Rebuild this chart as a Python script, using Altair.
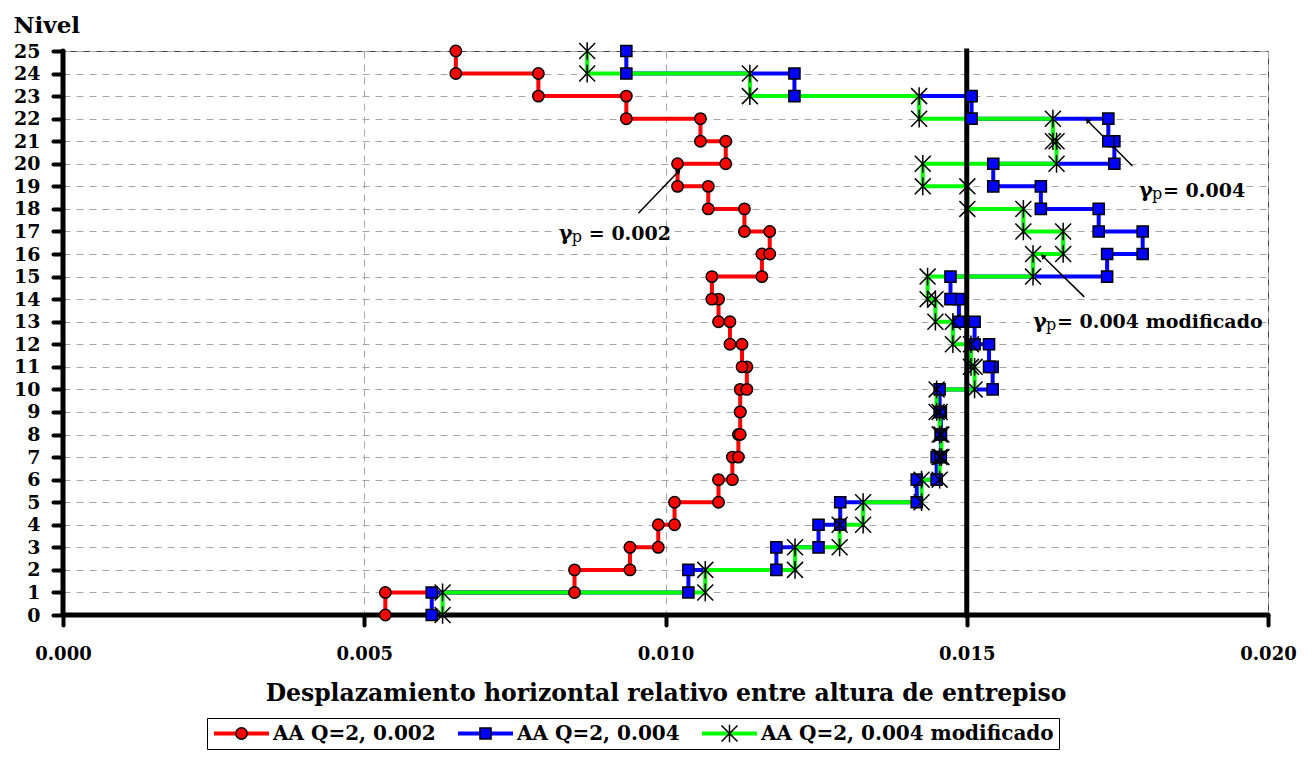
import altair as alt
import pandas as pd

F = "DejaVu Serif"

# ---- data ----
levels = list(range(26))
stories = list(range(1, 26))
series_names = ["AA Q=2, 0.002", "AA Q=2, 0.004", "AA Q=2, 0.004 modificado"]

drift_002 = [0.00535, 0.00849, 0.00941, 0.00988, 0.01015, 0.01088, 0.01111, 0.01121, 0.01124, 0.01124,
             0.01135, 0.01127, 0.01107, 0.01088, 0.01077, 0.01160, 0.01173, 0.01131, 0.01071, 0.01020,
             0.01100, 0.01058, 0.00935, 0.00789, 0.00652]
drift_004 = [0.00612, 0.01038, 0.01184, 0.01254, 0.01290, 0.01417, 0.01450, 0.01457, 0.01457, 0.01455,
             0.01543, 0.01537, 0.01513, 0.01487, 0.01473, 0.01733, 0.01792, 0.01719, 0.01623, 0.01544,
             0.01745, 0.01735, 0.01508, 0.01214, 0.00935]
drift_004m = [0.00630, 0.01066, 0.01215, 0.01289, 0.01328, 0.01425, 0.01455, 0.01458, 0.01455, 0.01450,
              0.01513, 0.01507, 0.01477, 0.01448, 0.01435, 0.01610, 0.01660, 0.01594, 0.01501, 0.01427,
              0.01649, 0.01643, 0.01421, 0.01140, 0.00870]

x_ticks = [0.000, 0.005, 0.010, 0.015, 0.020]
drift_limit = [0.015]

line_colors = ["#ff0000", "#0000ff", "#00ff00"]
marker_fills = ["#ff0000", "#0000ff", "#000000"]
marker_paths = [
    "M-0.2,0A0.2,0.2 0 1,0 0.2,0A0.2,0.2 0 1,0 -0.2,0Z",
    "M-0.195,-0.195L0.195,-0.195L0.195,0.195L-0.195,0.195Z",
    "M-0.28,-0.28L0.28,0.28M-0.28,0.28L0.28,-0.28M0,-0.31L0,0.31",
]

# annotations
ann_labels = ["= 0.002", "= 0.004", "= 0.004 modificado"]
ann_kind = ["spaced", "tight", "tight"]
ann_x = [0.00823, 0.01786, 0.01610]
ann_y = [16.62, 18.54, 12.72]
box_x = [0.00818, 0.01781, 0.01605]
box_x2 = [0.00999, 0.01963, 0.01990]
box_y = [16.45, 18.40, 12.55]
box_y2 = [17.45, 19.50, 13.60]
arr_x = [0.00955, 0.01775, 0.01695]
arr_y = [17.81, 19.90, 14.10]
arr_x2 = [0.01021, 0.01701, 0.01627]
arr_y2 = [19.65, 21.90, 15.88]
arr_angle = [44, 315, 315]

# ---- tables ----
rows = []
for name, arr in zip(series_names, [drift_002, drift_004, drift_004m]):
    for s, d in zip(stories, arr):
        rows.append({"serie": name, "x": d, "y": s - 1, "o": 2 * s})
        rows.append({"serie": name, "x": d, "y": s, "o": 2 * s + 1})
df = pd.DataFrame(rows)

ann = pd.DataFrame({"t": ann_labels, "k": ann_kind, "x": ann_x, "y": ann_y,
                    "x2": box_x2, "y2": box_y2, "bx": box_x, "by": box_y})
arrows = pd.DataFrame({"x": arr_x, "y": arr_y, "x2": arr_x2, "y2": arr_y2, "a": arr_angle})
limit_df = pd.DataFrame({"x": drift_limit, "y": [0], "y2": [25], "x0": [0.0], "x1": [0.02]})

xs = alt.Scale(domain=[0, 0.02], nice=False, zero=False)
ys = alt.Scale(domain=[0, 25], nice=False, zero=False)

XT = "Desplazamiento horizontal relativo entre altura de entrepiso"
xaxis = alt.Axis(values=x_ticks, format=".3f", labelFont=F, labelFontSize=18, labelFontWeight="bold",
                 labelColor="black", labelFlush=False, labelOverlap=False, labelPadding=20,
                 tickSize=10, tickWidth=4, tickColor="black", tickCap="round", domain=False,
                 grid=True, gridColor="#a6a6a6", gridDash=[7, 6], gridWidth=1,
                 title=XT, titleFont=F, titleFontSize=23.5, titleFontWeight="bold", titleColor="black",
                 titleY=85, titleBaseline="alphabetic")
yaxis = alt.Axis(values=levels, format="d", labelFont=F, labelFontSize=19, labelFontWeight="bold",
                 labelColor="black", labelOverlap=False, labelPadding=13,
                 tickSize=10, tickWidth=4, tickColor="black", tickCap="round", domain=False,
                 grid=True, gridColor="#a6a6a6", gridDash=[7, 6], gridWidth=1,
                 title="Nivel", titleAngle=0, titleAlign="left", titleBaseline="alphabetic",
                 titleX=-50, titleY=-19, titleFont=F, titleFontSize=23, titleFontWeight="bold",
                 titleColor="black")

leg_common = dict(orient="none", legendX=144, legendY=667, direction="horizontal", title=None,
                  labelFont=F, labelFontSize=20, labelFontWeight="bold", labelColor="black",
                  labelOffset=2, labelLimit=400, columnPadding=20, padding=5, clipHeight=21)
leg_lines = alt.Legend(symbolType="stroke", symbolSize=3025, symbolStrokeWidth=4,
                       strokeColor="black", fillColor="white", **leg_common)
leg_marks = alt.Legend(symbolSize=3249, symbolStrokeWidth=1.5, symbolStrokeColor="black",
                       symbolFillColor="white", labelOpacity=0, **leg_common)


def X(f="x"):
    return alt.X(f + ":Q", scale=xs, axis=xaxis, title=XT)


def Y(f="y"):
    return alt.Y(f + ":Q", scale=ys, axis=yaxis, title="Nivel")


boxes = alt.Chart(ann).mark_rect(color="white").encode(
    x=X("bx"), x2="x2:Q", y=Y("by"), y2="y2:Q")

yaxis_line = alt.Chart(limit_df).mark_rule(color="black", strokeWidth=5, strokeCap="round").encode(
    x=X("x0"), y=Y("y"), y2="y2:Q")
xaxis_line = alt.Chart(limit_df).mark_rule(color="black", strokeWidth=5, strokeCap="round").encode(
    x=X("x0"), x2="x1:Q", y=Y("y"))
limit_line = alt.Chart(limit_df).mark_rule(color="black", strokeWidth=5, strokeCap="square").encode(
    x=X("x"), y=Y("y"), y2="y2:Q")

lines = alt.Chart(df).mark_line(strokeWidth=4, interpolate="linear").encode(
    x=X("x"), y=Y("y"),
    color=alt.Color("serie:N", scale=alt.Scale(range=line_colors), legend=leg_lines),
    order="o:Q",
)

arrow_lines = alt.Chart(arrows).mark_rule(color="black", strokeWidth=1.5).encode(
    x=X("x"), y=Y("y"), x2="x2:Q", y2="y2:Q")
arrow_heads = alt.Chart(arrows).mark_point(shape="triangle", filled=True, color="black",
                                           size=35, opacity=1).encode(
    x=X("x2"), y=Y("y2"), angle=alt.Angle("a:Q", scale=None))

markers = alt.Chart(df).mark_point(filled=True, size=3249, stroke="black", strokeWidth=1.5,
                                   opacity=1).encode(
    x=X("x"), y=Y("y"),
    fill=alt.Fill("serie:N", scale=alt.Scale(domain=series_names, range=marker_fills), legend=leg_marks),
    shape=alt.Shape("serie:N", scale=alt.Scale(domain=series_names, range=marker_paths), legend=leg_marks),
)

gamma = alt.Chart(ann).mark_text(text="γ", font=F, fontSize=21, fontWeight="bold", color="black",
                                 align="left", baseline="alphabetic").encode(x=X("x"), y=Y("y"))
sub_p = alt.Chart(ann).mark_text(text="p", font=F, fontSize=16, color="black",
                                 align="left", baseline="alphabetic", dx=13, dy=2).encode(x=X("x"), y=Y("y"))
eq_spaced = alt.Chart(ann).transform_filter(alt.datum.k == "spaced").mark_text(
    font=F, fontSize=19, fontWeight="bold", color="black", align="left", baseline="alphabetic", dx=30
).encode(x=X("x"), y=Y("y"), text="t:N")
eq_tight = alt.Chart(ann).transform_filter(alt.datum.k == "tight").mark_text(
    font=F, fontSize=19, fontWeight="bold", color="black", align="left", baseline="alphabetic", dx=24
).encode(x=X("x"), y=Y("y"), text="t:N")

chart = alt.layer(
    boxes, yaxis_line, xaxis_line, lines, limit_line, arrow_lines, arrow_heads, markers,
    gamma, sub_p, eq_spaced, eq_tight
).properties(
    width=1205, height=564,
    autosize=alt.AutoSizeParams(type="none"),
    padding={"left": 55, "top": 43, "right": 38, "bottom": 135},
).configure_view(stroke="#444444", strokeWidth=1)

chart.save("out.html", embed_options={"renderer": "svg", "actions": False})
